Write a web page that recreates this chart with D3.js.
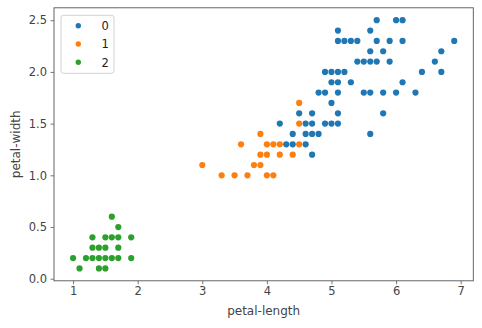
<!DOCTYPE html>
<html>
<head>
<meta charset="utf-8">
<script src="https://cdn.jsdelivr.net/npm/d3@7"></script>
<style>
  html, body { margin: 0; padding: 0; background: #fff; }
  svg { display: block; }
  text { font-family: "DejaVu Sans", sans-serif; }
</style>
</head>
<body>
<svg id="chart" width="482" height="328"></svg>
<script>
// Iris petal measurements, grouped by cluster label
const cluster0Length = [4.7, 4.3, 4.4, 4.6, 4.4, 4.6, 4.7, 4.8, 5.6, 4.2, 4.6, 4.7, 4.9, 5.0, 5.1,
  4.5, 4.7, 5.1, 5.8, 5.0, 4.8, 4.9, 5.1, 5.5, 5.6, 5.8, 6.0, 6.3, 5.0, 5.1, 5.3, 6.1,
  4.9, 5.0, 5.1, 5.2, 6.4, 6.7, 5.4, 5.5, 5.6, 5.7, 5.9, 6.6, 5.6, 5.8, 6.7,
  5.1, 5.2, 5.3, 5.4, 5.7, 5.9, 6.1, 6.9, 5.1, 5.6, 5.7, 6.0, 6.1];
const cluster0Width = [1.2, 1.3, 1.3, 1.3, 1.4, 1.4, 1.4, 1.4, 1.4, 1.5, 1.5, 1.5, 1.5, 1.5, 1.5,
  1.6, 1.6, 1.6, 1.6, 1.7, 1.8, 1.8, 1.8, 1.8, 1.8, 1.8, 1.8, 1.8, 1.9, 1.9, 1.9, 1.9,
  2.0, 2.0, 2.0, 2.0, 2.0, 2.0, 2.1, 2.1, 2.1, 2.1, 2.1, 2.1, 2.2, 2.2, 2.2,
  2.3, 2.3, 2.3, 2.3, 2.3, 2.3, 2.3, 2.3, 2.4, 2.4, 2.5, 2.5, 2.5];

const cluster1Length = [3.3, 3.5, 3.7, 4.0, 4.1, 3.0, 3.8, 3.9, 3.9, 4.0, 4.2, 4.4,
  3.6, 4.0, 4.1, 4.2, 4.5, 3.9, 4.5, 4.5];
const cluster1Width = [1.0, 1.0, 1.0, 1.0, 1.0, 1.1, 1.1, 1.1, 1.2, 1.2, 1.2, 1.2,
  1.3, 1.3, 1.3, 1.3, 1.3, 1.4, 1.5, 1.7];

const cluster2Length = [1.1, 1.4, 1.5, 1.0, 1.2, 1.3, 1.4, 1.5, 1.6, 1.7, 1.9,
  1.3, 1.4, 1.5, 1.7, 1.3, 1.5, 1.6, 1.7, 1.9, 1.7, 1.6];
const cluster2Width = [0.1, 0.1, 0.1, 0.2, 0.2, 0.2, 0.2, 0.2, 0.2, 0.2, 0.2,
  0.3, 0.3, 0.3, 0.3, 0.4, 0.4, 0.4, 0.4, 0.4, 0.5, 0.6];

const clusterLabels = ["0", "1", "2"];
const clusterColors = ["#1f77b4", "#ff7f0e", "#2ca02c"];
const xTicks = [1, 2, 3, 4, 5, 6, 7];
const yTicks = [0.0, 0.5, 1.0, 1.5, 2.0, 2.5];
const xTitle = "petal-length";
const yTitle = "petal-width";

const groups = [
  { label: clusterLabels[0], xs: cluster0Length, ys: cluster0Width },
  { label: clusterLabels[1], xs: cluster1Length, ys: cluster1Width },
  { label: clusterLabels[2], xs: cluster2Length, ys: cluster2Width }
];

const svg = d3.select("#chart");
const plot = { left: 54, right: 473.3, top: 7.8, bottom: 280.8 };

// 5% padding around the data extent
const allX = groups.flatMap(g => g.xs), allY = groups.flatMap(g => g.ys);
const [x0, x1] = d3.extent(allX), [y0, y1] = d3.extent(allY);
const px = (x1 - x0) * 0.05, py = (y1 - y0) * 0.05;

const x = d3.scaleLinear().domain([x0 - px, x1 + px]).range([plot.left, plot.right]);
const y = d3.scaleLinear().domain([y0 - py, y1 + py]).range([plot.bottom, plot.top]);

const ink = "#444";
const spine = "#555";

// axes
const xAxis = svg.append("g")
  .attr("transform", `translate(0,${plot.bottom})`)
  .call(d3.axisBottom(x).tickValues(xTicks).tickFormat(d3.format("d"))
    .tickSizeInner(3.5).tickSizeOuter(0).tickPadding(3));
const yAxis = svg.append("g")
  .attr("transform", `translate(${plot.left},0)`)
  .call(d3.axisLeft(y).tickValues(yTicks).tickFormat(d3.format(".1f"))
    .tickSizeInner(3.5).tickSizeOuter(0).tickPadding(3.5));

[xAxis, yAxis].forEach(a => {
  a.select(".domain").remove();
  a.selectAll(".tick line").attr("stroke", spine).attr("stroke-width", 0.8);
  a.selectAll(".tick text").attr("fill", ink)
    .style("font-family", "'DejaVu Sans', sans-serif").style("font-size", "11.5px");
});

// points, one layer per cluster
groups.forEach((g, i) => {
  svg.append("g").selectAll("circle")
    .data(g.xs.map((v, j) => [v, g.ys[j]]))
    .join("circle")
    .attr("cx", d => x(d[0]))
    .attr("cy", d => y(d[1]))
    .attr("r", 3.1)
    .attr("fill", clusterColors[i]);
});

// frame
svg.append("rect")
  .attr("x", plot.left).attr("y", plot.top)
  .attr("width", plot.right - plot.left).attr("height", plot.bottom - plot.top)
  .attr("fill", "none").attr("stroke", spine).attr("stroke-width", 0.9);

// axis titles
svg.append("text")
  .attr("x", (plot.left + plot.right) / 2).attr("y", 315)
  .attr("text-anchor", "middle").attr("fill", ink)
  .style("font-size", "12px").text(xTitle);
svg.append("text")
  .attr("transform", `translate(19.5,${(plot.top + plot.bottom) / 2}) rotate(-90)`)
  .attr("text-anchor", "middle").attr("fill", ink)
  .style("font-size", "12px").text(yTitle);

// legend
const legend = svg.append("g");
legend.append("rect")
  .attr("x", 61).attr("y", 15.3).attr("width", 53).attr("height", 58)
  .attr("rx", 2.5).attr("fill", "#fff").attr("fill-opacity", 0.8)
  .attr("stroke", "#ccc").attr("stroke-width", 0.9);
groups.forEach((g, i) => {
  const cy = 25.7 + i * 18.3;
  legend.append("circle").attr("cx", 78.3).attr("cy", cy).attr("r", 2.7)
    .attr("fill", clusterColors[i]);
  legend.append("text").attr("x", 101.5).attr("y", cy + 4.2)
    .attr("fill", "#222").style("font-size", "11.5px").text(g.label);
});
</script>
</body>
</html>
